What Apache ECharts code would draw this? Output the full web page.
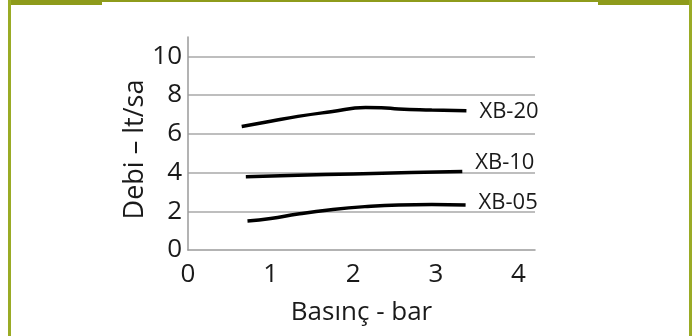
<!DOCTYPE html>
<html>
<head>
<meta charset="utf-8">
<script src="https://cdn.jsdelivr.net/npm/echarts@6/dist/echarts.min.js"></script>
<style>
html,body{margin:0;padding:0;background:#fff;}
#chart{width:694px;height:336px;}
</style>
</head>
<body>
<div id="chart"></div>
<script>
const seriesNames = ['XB-20', 'XB-10', 'XB-05'];
const xb20 = [[0.65, 6.38], [1.0, 6.65], [1.33, 6.9], [1.73, 7.14], [2.15, 7.36], [2.34, 7.35], [2.55, 7.28], [2.95, 7.23], [3.37, 7.19]];
const xb10 = [[0.7, 3.78], [1.33, 3.86], [2.0, 3.93], [2.7, 4.0], [3.32, 4.05]];
const xb05 = [[0.72, 1.5], [1.0, 1.63], [1.33, 1.86], [1.73, 2.08], [2.14, 2.24], [2.55, 2.33], [2.95, 2.35], [3.36, 2.33]];
const seriesData = [xb20, xb10, xb05];
const xAxisName = 'Basınç - bar';
const yAxisName = 'Debi – lt/sa';
const xMin = 0, xMax = 4.2, xStep = 1;
const yMin = 0, yMax = 11, yStep = 2;

const labelOffsets = [[0, 1], [0, -9], [0, -2]];
const font = '"Open Sans", sans-serif';
const chart = echarts.init(document.getElementById('chart'));
chart.setOption({
  animation: false,
  backgroundColor: '#fff',
  grid: { left: 188, right: 159, top: 37, bottom: 86 },
  xAxis: {
    type: 'value', min: xMin, max: xMax, interval: xStep,
    name: xAxisName, nameLocation: 'middle', nameGap: 50,
    nameTextStyle: { fontFamily: font, fontSize: 26, color: '#1a1a1a' },
    axisLine: { show: true, lineStyle: { color: '#9a9a9a', width: 1.5 } },
    axisTick: { show: false },
    axisLabel: { fontFamily: font, fontSize: 26, color: '#1a1a1a', margin: 12, showMaxLabel: false },
    splitLine: { show: false }
  },
  yAxis: {
    type: 'value', min: yMin, max: yMax, interval: yStep,
    name: yAxisName, nameLocation: 'middle', nameGap: 36, nameRotate: 90,
    nameTextStyle: { fontFamily: font, fontSize: 27, color: '#1a1a1a', padding: [0, 12, 0, 0] },
    axisLine: { show: true, lineStyle: { color: '#9a9a9a', width: 1.5 } },
    axisTick: { show: false },
    axisLabel: { fontFamily: font, fontSize: 26, color: '#1a1a1a', margin: 6, showMaxLabel: false },
    splitLine: { show: true, showMaxLine: false, showMinLine: false, lineStyle: { color: '#a8a8a8', width: 1.5 } }
  },
  graphic: [
    { type: 'rect', shape: { x: 8, y: 0, width: 94, height: 5 }, style: { fill: '#8e9b1b' } },
    { type: 'rect', shape: { x: 8, y: 0, width: 684, height: 2 }, style: { fill: '#8e9b1b' } },
    { type: 'rect', shape: { x: 598, y: 0, width: 94, height: 5 }, style: { fill: '#8e9b1b' } },
    { type: 'rect', shape: { x: 8, y: 0, width: 3, height: 336 }, style: { fill: '#9aab25' } },
    { type: 'rect', shape: { x: 689, y: 0, width: 3, height: 336 }, style: { fill: '#9aab25' } }
  ],
  series: seriesNames.map((n, i) => ({
    name: n, type: 'line', data: seriesData[i], smooth: true, symbol: 'none',
    lineStyle: { color: '#000', width: 3.5 },
    endLabel: { show: true, formatter: n, fontFamily: font, fontSize: 22, color: '#1a1a1a', distance: 13, offset: labelOffsets[i] }
  }))
});
</script>
</body>
</html>
